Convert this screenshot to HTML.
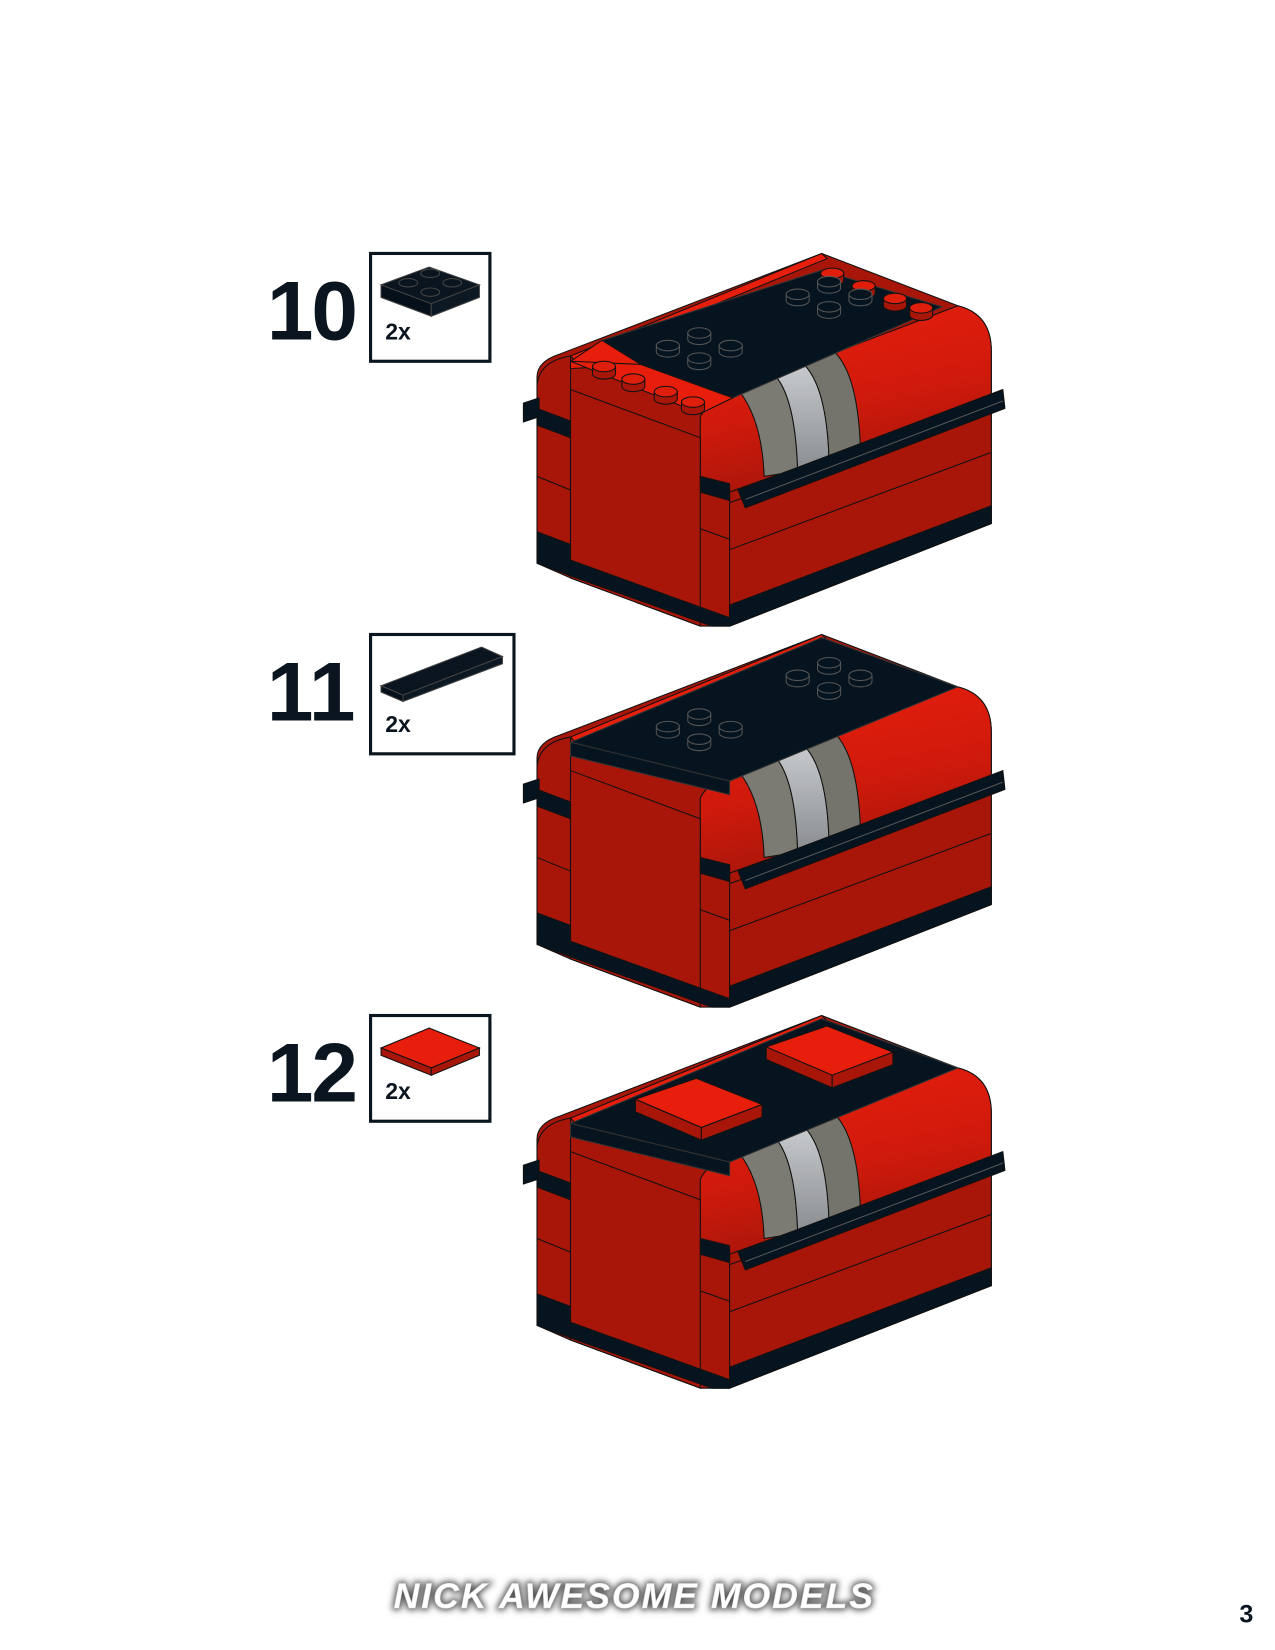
<!DOCTYPE html>
<html><head><meta charset="utf-8"><style>
html,body{margin:0;padding:0;background:#fff;}
svg{display:block;}
</style></head><body>
<svg width="1275" height="1650" viewBox="0 0 1218 1576" xmlns="http://www.w3.org/2000/svg">
<defs>
<linearGradient id="rg" x1="0" y1="0" x2="0.3" y2="1"><stop offset="0" stop-color="#e81e0c"/><stop offset="0.6" stop-color="#d01a0c"/><stop offset="1" stop-color="#a8160a"/></linearGradient>
<linearGradient id="lg" x1="0" y1="0" x2="0" y2="1"><stop offset="0" stop-color="#c8cbce"/><stop offset="1" stop-color="#8a8d90"/></linearGradient>
<filter id="glow" x="-10%" y="-50%" width="120%" height="200%"><feGaussianBlur stdDeviation="3"/></filter>
<g id="base" stroke="#111" stroke-width="1" stroke-linejoin="round">
  <path d="M513,360 Q513,345 535,338 L785,242 L915,292 Q947,300 947,335 L947,500 L697,598 L669,598 L545,552 L513,538 Z" fill="#a8160a"/>
  <path d="M545,340 L785,242 L790,247 L550,345 Z" fill="#e81e0c"/>
  <path d="M513,368 Q515,345 545,340 L545,520 L513,508 Z" fill="#a8160a"/>
  <path d="M669,398 Q680,378 705,372 L915,292 Q947,300 947,335 L947,380 L697,470 L669,462 Z" fill="url(#rg)"/>
  <path d="M705,372 L740,358 Q760,380 762,450 L730,455 Q728,400 705,372 Z" fill="#7b7b73"/>
  <path d="M740,358 L768,348 Q790,370 792,440 L762,450 Q760,380 740,358 Z" fill="url(#lg)"/>
  <path d="M768,348 L798,337 Q820,360 822,430 L792,440 Q790,370 768,348 Z" fill="#74746c"/>
  <path d="M697,470 L947,380 L947,500 L697,598 Z" fill="#a8160a"/>
  <line x1="697" y1="525" x2="947" y2="432" stroke="#111"/>
  <line x1="697" y1="480" x2="947" y2="390" stroke="#111"/>
  <path d="M545,372 L669,418 L669,598 L545,552 Z" fill="#a8160a"/>
  <line x1="513" y1="455" x2="545" y2="468"/>
  <line x1="669" y1="505" x2="697" y2="515"/>
  <path d="M513,508 L545,520 L545,535 L697,590 L697,578 L947,483 L947,500 L697,598 L680,598 L545,550 L513,538 Z" fill="#06141f"/>
  <path d="M513,390 L545,402 L545,418 L513,406 Z" fill="#06141f"/>
  <path d="M669,455 L697,462 L697,478 L669,470 Z" fill="#06141f"/>
  <path d="M500,385 L515,380 L515,398 L500,403 Z" fill="#06141f"/>
  <path d="M705,468 L958,372 L960,390 L712,485 Z" fill="#06141f"/>
  <line x1="712" y1="477" x2="958" y2="383" stroke="#555"/>
</g>
<g id="tile" stroke="#111" stroke-width="1" stroke-linejoin="round">
  <path d="M0,20 L58,0 L121,25 L63,47 Z" fill="#e81e0c"/>
  <path d="M0,20 L63,47 L63,59 L0,32 Z" fill="#a8160a"/>
  <path d="M63,47 L121,25 L121,37 L63,59 Z" fill="#a8160a"/>
</g>
<g id="bs" stroke="#555"><path d="M-11,0 L-11,6 A11,5 0 0 0 11,6 L11,0 Z" fill="#06141f"/><ellipse cx="0" cy="0" rx="11" ry="5" fill="#06141f"/></g>
<g id="rs" stroke="#111"><path d="M-11,0 L-11,7 A11,5 0 0 0 11,7 L11,0 Z" fill="#a8160a"/><ellipse cx="0" cy="0" rx="11" ry="5" fill="#e01e0c"/></g>
<g id="bstuds">
<use href="#bs" x="668" y="318"/><use href="#bs" x="638" y="330"/><use href="#bs" x="698" y="330"/><use href="#bs" x="668" y="342"/>
<use href="#bs" x="792" y="269"/><use href="#bs" x="762" y="281"/><use href="#bs" x="822" y="281"/><use href="#bs" x="792" y="293"/>
</g>
</defs>

<g font-family="Liberation Sans, sans-serif" font-weight="bold" fill="#0a1520">
<text x="255" y="324" font-size="80" letter-spacing="-2">10</text>
<text x="255" y="688" font-size="80" letter-spacing="0">11</text>
<text x="255" y="1052" font-size="80" letter-spacing="-2">12</text>
<text x="368" y="324" font-size="22">2x</text>
<text x="368" y="699" font-size="22">2x</text>
<text x="368" y="1050" font-size="22">2x</text>
</g>
<g fill="none" stroke="#0a1520" stroke-width="3">
<rect x="354" y="242" width="114" height="103"/>
<rect x="354" y="606" width="137" height="114"/>
<rect x="354" y="970" width="114" height="101"/>
</g>
<g stroke="#444" stroke-width="1">
<path d="M364,272 L410,255 L458,272 L412,290 Z" fill="#0a1520"/>
<path d="M364,272 L412,290 L412,302 L364,284 Z" fill="#06101a"/>
<path d="M412,290 L458,272 L458,284 L412,302 Z" fill="#0c1822"/>
<ellipse cx="411" cy="261" rx="9" ry="4" fill="#0a1520"/><ellipse cx="390" cy="270" rx="9" ry="4" fill="#0a1520"/><ellipse cx="432" cy="270" rx="9" ry="4" fill="#0a1520"/><ellipse cx="411" cy="279" rx="9" ry="4" fill="#0a1520"/>
<path d="M364,655 L460,618 L480,627 L385,664 Z" fill="#0a1520"/>
<path d="M364,655 L385,664 L385,670 L364,661 Z" fill="#06101a"/>
<path d="M385,664 L480,627 L480,634 L385,670 Z" fill="#0c1822"/>
</g>
<g stroke="#111"><path d="M364,1001 L410,982 L458,1001 L412,1020 Z" fill="#e81e0c"/>
<path d="M364,1001 L412,1020 L412,1027 L364,1008 Z" fill="#a8160a"/><path d="M412,1020 L458,1001 L458,1008 L412,1027 Z" fill="#a8160a"/></g>

<g>
<use href="#base"/>
<path d="M575,325 L785,258 L900,293 L700,380 L612,348 Z" fill="#06141f" stroke="#333"/>
<path d="M545,345 L575,325 L612,348 L545,352 Z" fill="#e81e0c" stroke="#111"/>
<path d="M545,345 L612,348 L700,380 L669,395 Z" fill="#e81e0c" stroke="#111"/>
<use href="#rs" x="577" y="350"/><use href="#rs" x="605" y="362"/><use href="#rs" x="636" y="374"/><use href="#rs" x="662" y="384"/>
<use href="#rs" x="795" y="261"/><use href="#rs" x="825" y="273"/><use href="#rs" x="855" y="285"/><use href="#rs" x="880" y="294"/>
<use href="#bstuds"/>
</g>

<g transform="translate(0,364)">
<use href="#base"/>
<path d="M545,345 L785,245 L915,292 L697,382 Z" fill="#06141f" stroke="#333"/>
<path d="M545,345 L697,382 L697,395 L545,358 Z" fill="#06141f" stroke="#333"/>
<use href="#bstuds"/>
</g>

<g transform="translate(0,728)">
<use href="#base"/>
<path d="M545,345 L785,245 L915,292 L697,382 Z" fill="#06141f" stroke="#333"/>
<path d="M545,345 L697,382 L697,395 L545,358 Z" fill="#06141f" stroke="#333"/>
<use href="#tile" transform="translate(607,302)"/>
<use href="#tile" transform="translate(732,252)"/>
</g>

<g font-family="Liberation Sans, sans-serif" font-weight="bold" font-style="italic" font-size="34">
<text x="376" y="1536" fill="#555" stroke="#555" stroke-width="4" filter="url(#glow)" textLength="458">NICK AWESOME MODELS</text>
<text x="376" y="1536" fill="#fff" stroke="#ddd" stroke-width="0.5" textLength="458">NICK AWESOME MODELS</text>
</g>
<text x="1184" y="1550" font-family="Liberation Sans, sans-serif" font-weight="bold" font-size="24" fill="#0a1520">3</text>
</svg>
</body></html>
